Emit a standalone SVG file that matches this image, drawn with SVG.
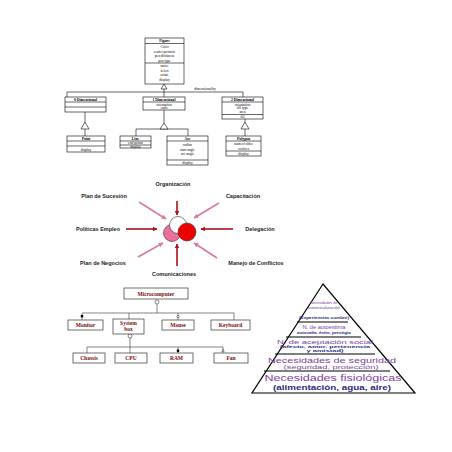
<svg xmlns="http://www.w3.org/2000/svg" width="452" height="452" viewBox="0 0 452 452">
<defs>
<style>
.bx{fill:#fff;stroke:#000;stroke-width:0.6}
.ln{stroke:#000;stroke-width:0.6;fill:none}
.tri{fill:#fff;stroke:#000;stroke-width:0.6}
.u{font-family:"Liberation Serif",serif;font-size:3.6px;text-anchor:middle;fill:#000}
.ub{font-family:"Liberation Serif",serif;font-size:3.8px;font-weight:bold;text-anchor:middle;fill:#000}
.lab{font-family:"Liberation Sans",Arial,sans-serif;font-size:5.5px;font-weight:bold;fill:#222;text-anchor:middle}
.ar{stroke:#b01020;stroke-width:1.6;fill:none}
.ap{stroke:#d97a98;stroke-width:1.6;fill:none}
.mb{fill:#fff;stroke:#333;stroke-width:0.7}
.mt{font-family:"Liberation Serif",serif;font-size:5.5px;font-weight:bold;fill:#7a0a0a;text-anchor:middle}
.ml{stroke:#333;stroke-width:0.6;fill:none}
.pl{stroke:#000;stroke-width:1.2;fill:none}
.py{font-family:"Liberation Sans",Arial,sans-serif;fill:#7a3f9d;text-anchor:middle}
.pn{font-family:"Liberation Sans",Arial,sans-serif;fill:#2a2a80;text-anchor:middle;font-weight:bold}
</style>
<marker id="ahr" viewBox="0 0 10 10" refX="9" refY="5" markerWidth="3" markerHeight="3" orient="auto"><path d="M0,0L10,5L0,10z" fill="#b01020"/></marker>
<marker id="ahp" viewBox="0 0 10 10" refX="9" refY="5" markerWidth="3" markerHeight="3" orient="auto"><path d="M0,0L10,5L0,10z" fill="#d97a98"/></marker>
</defs>
<rect width="452" height="452" fill="#fff"/>

<!-- UML figure diagram connectors -->
<g id="uml-connectors">
<path class="ln" d="M164,89V92M67,97V92H243V97M164,92V97"/>
<polygon class="tri" points="164,84 161,89 167,89"/>
<text class="u" x="205" y="90">dimensionality</text>
<path class="ln" d="M85,112V122M85,129V136"/>
<polygon class="tri" points="85,122 81,129 89,129"/>
<path class="ln" d="M164,110V123M136,136V129H188V136"/>
<polygon class="tri" points="164,123 160,129 168,129"/>
<path class="ln" d="M245,119V122M245,129V136"/>
<polygon class="tri" points="245,122 241,129 249,129"/>
</g>

<g id="figure">
<rect class="bx" x="145" y="38" width="39" height="46"/>
<path class="ln" d="M145,43.5H184M145,63H184"/>
<text class="ub" x="164.5" y="42.2">Figure</text>
<text class="u" x="164.5" y="48">Color</text>
<text class="u" x="164.5" y="52.5">center position</text>
<text class="u" x="164.5" y="57">pen thickness</text>
<text class="u" x="164.5" y="61.5">pen type</text>
<text class="u" x="164.5" y="67">move</text>
<text class="u" x="164.5" y="71.5">select</text>
<text class="u" x="164.5" y="76">rotate</text>
<text class="u" x="164.5" y="80.5">display</text>
</g>
<g id="dim0">
<rect class="bx" x="65" y="97" width="41" height="15"/>
<path class="ln" d="M65,102H106M65,107H106"/>
<text class="ub" x="85.5" y="100.8">0 Dimensional</text>
</g>
<g id="dim1">
<rect class="bx" x="143" y="97" width="42" height="13"/>
<path class="ln" d="M143,102H185"/>
<text class="ub" x="164" y="100.8">1 Dimensional</text>
<text class="u" x="164" y="105.5">orientation</text>
<text class="u" x="164" y="109.2">ends</text>
</g>
<g id="dim2">
<rect class="bx" x="222" y="97" width="41" height="22"/>
<path class="ln" d="M222,102H263M222,114.5H263"/>
<text class="ub" x="242.5" y="100.8">2 Dimensional</text>
<text class="u" x="242.5" y="105.5">orientation</text>
<text class="u" x="242.5" y="109.3">fill type</text>
<text class="u" x="242.5" y="113.2">area</text>
<text class="u" x="242.5" y="118">fill</text>
</g>
<g id="point">
<rect class="bx" x="67" y="136" width="38" height="16"/>
<path class="ln" d="M67,141H105M67,146H105"/>
<text class="ub" x="86" y="139.8">Point</text>
<text class="u" x="86" y="150.5">display</text>
</g>
<g id="line">
<rect class="bx" x="120" y="136" width="31" height="12"/>
<path class="ln" d="M120,141H151M120,145H151"/>
<text class="ub" x="135.5" y="139.8">Line</text>
<text class="u" x="135.5" y="144.2">end points</text>
<text class="u" x="135.5" y="147.6">display</text>
</g>
<g id="arc">
<rect class="bx" x="167" y="136" width="41" height="29"/>
<path class="ln" d="M167,141H208M167,160H208"/>
<text class="ub" x="187.5" y="139.8">Arc</text>
<text class="u" x="187.5" y="146">radius</text>
<text class="u" x="187.5" y="150.5">start angle</text>
<text class="u" x="187.5" y="155">arc angle</text>
<text class="u" x="187.5" y="163.5">display</text>
</g>
<g id="polygon">
<rect class="bx" x="226" y="136" width="35" height="20"/>
<path class="ln" d="M226,141H261M226,151H261"/>
<text class="ub" x="243.5" y="139.8">Polygon</text>
<text class="u" x="243.5" y="145">num of sides</text>
<text class="u" x="243.5" y="149.5">vertices</text>
<text class="u" x="243.5" y="155">display</text>
</g>

<!-- Organization radial diagram -->
<g id="radial-connectors">
<line class="ar" x1="177" y1="201" x2="177" y2="215" marker-end="url(#ahr)"/>
<line class="ar" x1="177" y1="266" x2="177" y2="244" marker-end="url(#ahr)"/>
<line class="ar" x1="126" y1="229" x2="157" y2="229" marker-end="url(#ahr)"/>
<line class="ar" x1="233" y1="229" x2="201" y2="229" marker-end="url(#ahr)"/>
<line class="ap" x1="139" y1="202" x2="166" y2="219" marker-end="url(#ahp)"/>
<line class="ap" x1="219" y1="203" x2="194" y2="218" marker-end="url(#ahp)"/>
<line class="ap" x1="138" y1="257" x2="163" y2="243" marker-end="url(#ahp)"/>
<line class="ap" x1="217" y1="258" x2="194" y2="243" marker-end="url(#ahp)"/>
</g>
<g id="venn">
<circle cx="172" cy="233" r="8.5" fill="#ec6f9f" stroke="#333" stroke-width="0.6"/>
<circle cx="178" cy="225" r="8.5" fill="#fff" stroke="#333" stroke-width="0.6"/>
<circle cx="187" cy="232" r="9" fill="#ee0000" stroke="#333" stroke-width="0.6"/>
</g>
<g id="labels-radial">
<text class="lab" x="173" y="186">Organización</text>
<text class="lab" x="243" y="198">Capacitación</text>
<text class="lab" x="104" y="198">Plan de Sucesión</text>
<text class="lab" x="98" y="231">Políticas Empleo</text>
<text class="lab" x="260" y="231">Delegación</text>
<text class="lab" x="103" y="265">Plan de Negocios</text>
<text class="lab" x="256" y="265">Manejo de Conflictos</text>
<text class="lab" x="174" y="276">Comunicaciones</text>
</g>

<!-- Microcomputer diagram -->
<g id="micro-connectors">
<path class="ml" d="M157,304V313M82,320V313H234V320M129,313V319M178,313V320"/>
<circle cx="157" cy="302" r="2" fill="#fff" stroke="#333" stroke-width="0.6"/>
<rect x="80.8" y="315" width="2.4" height="2.4" fill="#000"/>
<circle cx="178" cy="316.5" r="1.2" fill="#fff" stroke="#333" stroke-width="0.6"/>
<path class="ml" d="M130,338V347M87,353V347H223V353M130,347V353M178,347V353"/>
<circle cx="130" cy="336" r="2" fill="#fff" stroke="#333" stroke-width="0.6"/>
<rect x="176.8" y="349.5" width="2.4" height="2.4" fill="#000"/>
<polygon points="223,349 221.8,351.5 224.2,351.5" fill="#fff" stroke="#333" stroke-width="0.5"/>
</g>
<g id="microcomputer"><rect class="mb" x="124" y="288" width="64" height="11"/><text class="mt" x="156" y="295.5">Microcomputer</text></g>
<g id="monitor"><rect class="mb" x="68" y="320" width="35" height="10"/><text class="mt" x="85.5" y="327">Monitor</text></g>
<g id="systembox"><rect class="mb" x="113" y="319" width="31" height="15"/><text class="mt" x="128.5" y="325">System</text><text class="mt" x="128.5" y="331">box</text></g>
<g id="mouse"><rect class="mb" x="162" y="320" width="32" height="10"/><text class="mt" x="178" y="327">Mouse</text></g>
<g id="keyboard"><rect class="mb" x="211" y="320" width="39" height="10"/><text class="mt" x="230.5" y="327">Keyboard</text></g>
<g id="chassis"><rect class="mb" x="73" y="353" width="32" height="10"/><text class="mt" x="89" y="360">Chassis</text></g>
<g id="cpu"><rect class="mb" x="115" y="353" width="32" height="10"/><text class="mt" x="131" y="360">CPU</text></g>
<g id="ram"><rect class="mb" x="160" y="353" width="33" height="10"/><text class="mt" x="176.5" y="360">RAM</text></g>
<g id="fan"><rect class="mb" x="214" y="353" width="34" height="10"/><text class="mt" x="231" y="360">Fan</text></g>

<!-- Maslow pyramid -->
<g id="pyramid">
<polygon points="323,284 252,393 415,393" fill="#fff" stroke="#000" stroke-width="1.2"/>
<path class="pl" d="M297,322H348M286,337H361M275,354H375M264,371H390"/>
<text class="py" x="324" y="304" font-size="3.4" textLength="27" lengthAdjust="spacingAndGlyphs">Necesidades de</text>
<text class="py" x="324" y="309" font-size="3.4" textLength="32" lengthAdjust="spacingAndGlyphs">autorrealización</text>
<text class="pn" x="324" y="319" font-size="3.4" font-weight="normal" textLength="50" lengthAdjust="spacingAndGlyphs">(Experiencias cumbre)</text>
<text class="py" x="324" y="328.5" font-size="5" textLength="43" lengthAdjust="spacingAndGlyphs">N. de autoestima</text>
<text class="pn" x="324" y="334" font-size="4.3" textLength="54" lengthAdjust="spacingAndGlyphs">autovalía, éxito, prestigio</text>
<text class="py" x="325" y="343.5" font-size="5.2" textLength="96" lengthAdjust="spacingAndGlyphs">N. de aceptación social</text>
<text class="pn" x="325" y="347.5" font-size="3.8" textLength="90" lengthAdjust="spacingAndGlyphs">(afecto, amor, pertenencia</text>
<text class="pn" x="325" y="351.5" font-size="3.8" textLength="37" lengthAdjust="spacingAndGlyphs">y amistad)</text>
<text class="py" x="332" y="362.5" font-size="8" textLength="128" lengthAdjust="spacingAndGlyphs">Necesidades de seguridad</text>
<text class="py" x="331" y="369" font-size="5.5" textLength="95" lengthAdjust="spacingAndGlyphs">(seguridad, protección)</text>
<text class="py" x="333" y="380.5" font-size="9" textLength="137" lengthAdjust="spacingAndGlyphs">Necesidades fisiológicas</text>
<text class="pn" x="332" y="389.5" font-size="6.5" textLength="118" lengthAdjust="spacingAndGlyphs">(alimentación, agua, aire)</text>
</g>
</svg>
